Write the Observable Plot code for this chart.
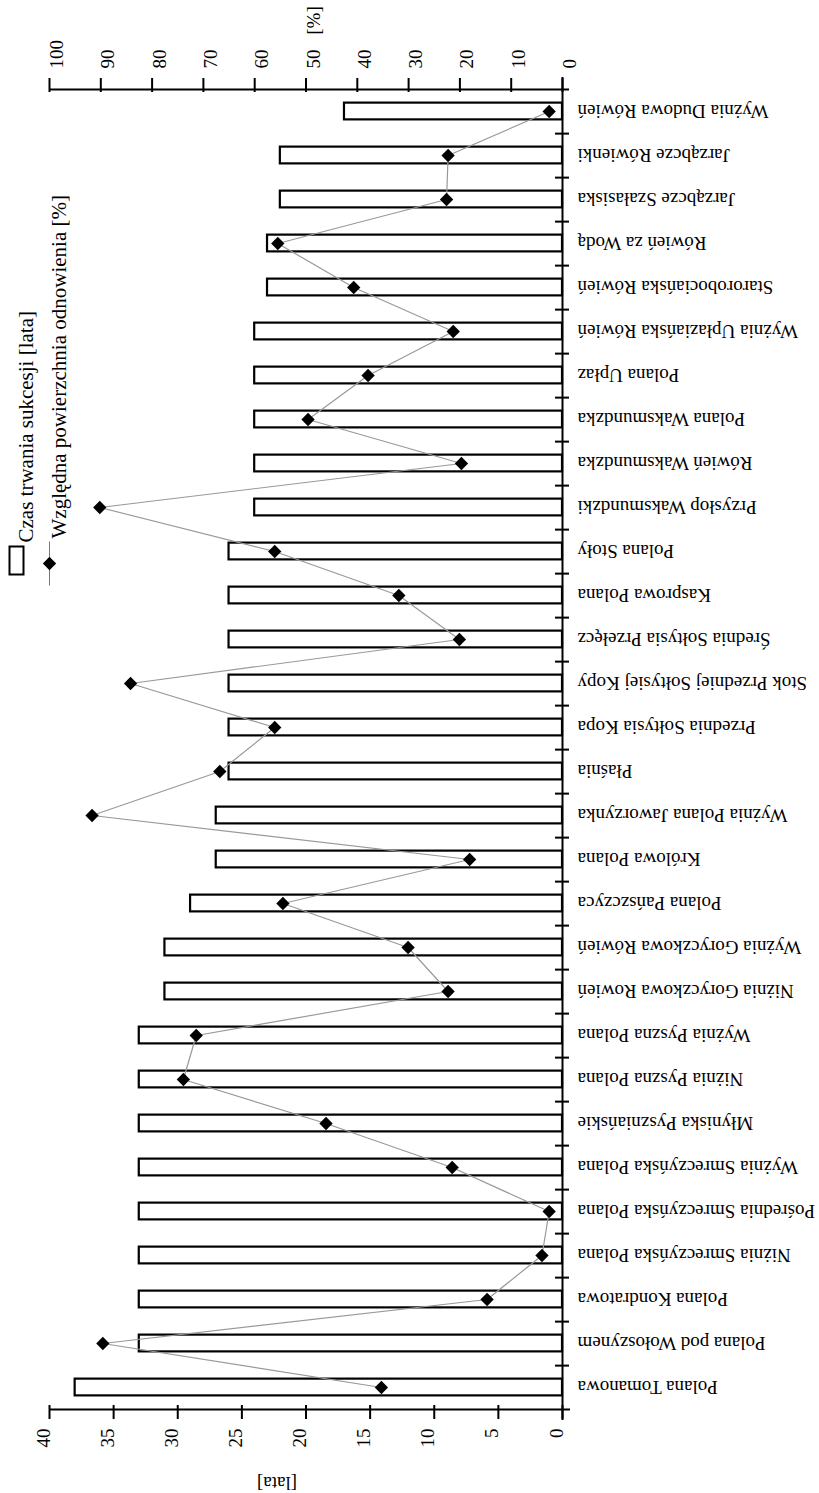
<!DOCTYPE html>
<html><head><meta charset="utf-8">
<script src="https://cdn.jsdelivr.net/npm/d3@7"></script>
<script src="https://cdn.jsdelivr.net/npm/@observablehq/plot@0.6"></script>
<style>body{margin:0;background:#fff}</style>
</head><body><div id="chart"></div>
<script>
// Categories in original order (drawn bottom to top)
const names = [
  "Polana Tomanowa",
  "Polana pod Wołoszynem",
  "Polana Kondratowa",
  "Niżnia Smreczyńska Polana",
  "Pośrednia Smreczyńska Polana",
  "Wyżnia Smreczyńska Polana",
  "Młyniska Pyszniańskie",
  "Niżnia Pyszna Polana",
  "Wyżnia Pyszna Polana",
  "Niżnia Goryczkowa Rowień",
  "Wyżnia Goryczkowa Rówień",
  "Polana Pańszczyca",
  "Królowa Polana",
  "Wyżnia Polana Jaworzynka",
  "Płaśnia",
  "Przednia Sołtysia Kopa",
  "Stok Przedniej Sołtysiej Kopy",
  "Średnia Sołtysia Przełęcz",
  "Kasprowa Polana",
  "Polana Stoły",
  "Przysłop Waksmundzki",
  "Rówień Waksmundzka",
  "Polana Waksmundzka",
  "Polana Upłaz",
  "Wyżnia Upłaziańska Rówień",
  "Starorobociańska Rówień",
  "Rówień za Wodą",
  "Jarząbcze Szałasiska",
  "Jarząbcze Rówienki",
  "Wyżnia Dudowa Rówień"
];
// Czas trwania sukcesji [lata]
const years = [38, 33, 33, 33, 33, 33, 33, 33, 33, 31, 31, 29, 27, 27, 26, 26, 26, 26, 26, 26, 24, 24, 24, 24, 24, 23, 23, 22, 22, 17];
// Względna powierzchnia odnowienia [%]
const pct = [35.3, 89.6, 14.7, 4.0, 2.6, 21.5, 46.1, 73.9, 71.4, 22.3, 30.1, 54.5, 18.1, 91.7, 66.8, 56.1, 84.2, 20.1, 31.9, 56.1, 90.2, 19.7, 49.6, 37.9, 21.3, 40.7, 55.5, 22.6, 22.3, 2.6];
const lataTicks = [0, 5, 10, 15, 20, 25, 30, 35, 40];
const pctTicks = [0, 10, 20, 30, 40, 50, 60, 70, 80, 90, 100];
const lataLabel = "[lata]";
const pctLabel = "[%]";
const legendLabels = ["Czas trwania sukcesji [lata]", "Względna powierzchnia odnowienia [%]"];

const W = 819, H = 1493, mL = 49, mR = 257, mT = 85, mB = 81;
const frameW = W - mL - mR, frameH = H - mT - mB;
const bw = frameH / names.length;
const barH = 17;
const toLata = p => p * 40 / 100;
const data = names.map((name, i) => ({name, years: years[i], pct: pct[i]}));
const topCat = names[names.length - 1], botCat = names[0];
const font = "'Liberation Serif','Times New Roman',serif";
const rectSym = {draw(c) { c.rect(-7, -14, 14, 28); }};
const lineSym = {draw(c) { c.moveTo(0, -22); c.lineTo(0, 22); }};
const fs = 19, lfs = 21;

const chart = Plot.plot({
  width: W, height: H,
  marginLeft: mL, marginRight: mR, marginTop: mT, marginBottom: mB,
  x: {domain: [0, 40], reverse: true, axis: null},
  y: {domain: names, reverse: true, padding: 0, axis: null},
  style: {fontFamily: font, background: "white", color: "black", fontSize: fs + "px"},
  marks: [
    Plot.barX(data, {x: "years", y: "name", fill: "white", stroke: "black", strokeWidth: 2.2,
      insetTop: (bw - barH) / 2, insetBottom: (bw - barH) / 2}),
    Plot.line(data, {x: d => toLata(d.pct), y: "name", stroke: "#999", strokeWidth: 1.2}),
    Plot.dot(data, {x: d => toLata(d.pct), y: "name", symbol: "diamond2", r: 6, fill: "black", stroke: "none"}),
    // category axis
    Plot.ruleX([0], {stroke: "black", strokeWidth: 2, insetTop: -8, insetBottom: -8}),
    Plot.ruleY(names.slice(1), {y: d => d, dy: bw / 2, insetLeft: frameW - 7, insetRight: -7, stroke: "black", strokeWidth: 2}),
    // top (%) axis
    Plot.ruleY([topCat], {y: d => d, dy: -bw / 2, insetRight: -7, stroke: "black", strokeWidth: 2}),
    Plot.ruleX(pctTicks, {x: toLata, insetTop: -7, insetBottom: frameH - 7, stroke: "black", strokeWidth: 2}),
    Plot.text(pctTicks, {x: toLata, text: d => String(d), frameAnchor: "top", dy: -17, rotate: -90, textAnchor: "start", fontSize: fs, fontFamily: font}),
    Plot.text([pctLabel], {x: toLata(50), text: d => d, frameAnchor: "top", dy: -65, rotate: -90, fontSize: fs, fontFamily: font}),
    // bottom (lata) axis
    Plot.ruleY([botCat], {y: d => d, dy: bw / 2, insetRight: -8, stroke: "black", strokeWidth: 2}),
    Plot.ruleX(lataTicks, {x: d => d, insetTop: frameH - 7, insetBottom: -7, stroke: "black", strokeWidth: 2}),
    Plot.text(lataTicks, {x: d => d, text: d => String(d), frameAnchor: "bottom", dy: 16, rotate: -90, textAnchor: "end", fontSize: fs, fontFamily: font}),
    Plot.text([lataLabel], {x: 20, text: d => d, frameAnchor: "bottom", dx: -29, dy: 64, rotate: 180, fontSize: fs, fontFamily: font}),
    // category labels
    Plot.text(names, {y: d => d, text: d => d, frameAnchor: "right", dx: 15, rotate: 180, textAnchor: "end", fontSize: fs, fontFamily: font}),
    // legend
    Plot.dot([0], {frameAnchor: "top-left", dx: -33, dy: 475, symbol: rectSym, fill: "white", stroke: "black", strokeWidth: 2, r: 5}),
    Plot.text([legendLabels[0]], {text: d => d, frameAnchor: "top-left", dx: -31, dy: 457, rotate: -90, textAnchor: "start", fontSize: lfs, fontFamily: font}),
    Plot.dot([0], {frameAnchor: "top-left", dx: 0, dy: 478, symbol: lineSym, stroke: "#777", strokeWidth: 1, r: 5}),
    Plot.dot([0], {frameAnchor: "top-left", dx: 0, dy: 478, symbol: "diamond2", r: 6, fill: "black", stroke: "none"}),
    Plot.text([legendLabels[1]], {text: d => d, frameAnchor: "top-left", dx: 2, dy: 453, rotate: -90, textAnchor: "start", fontSize: lfs, fontFamily: font})
  ]
});
document.getElementById("chart").appendChild(chart);
</script>
</body></html>
